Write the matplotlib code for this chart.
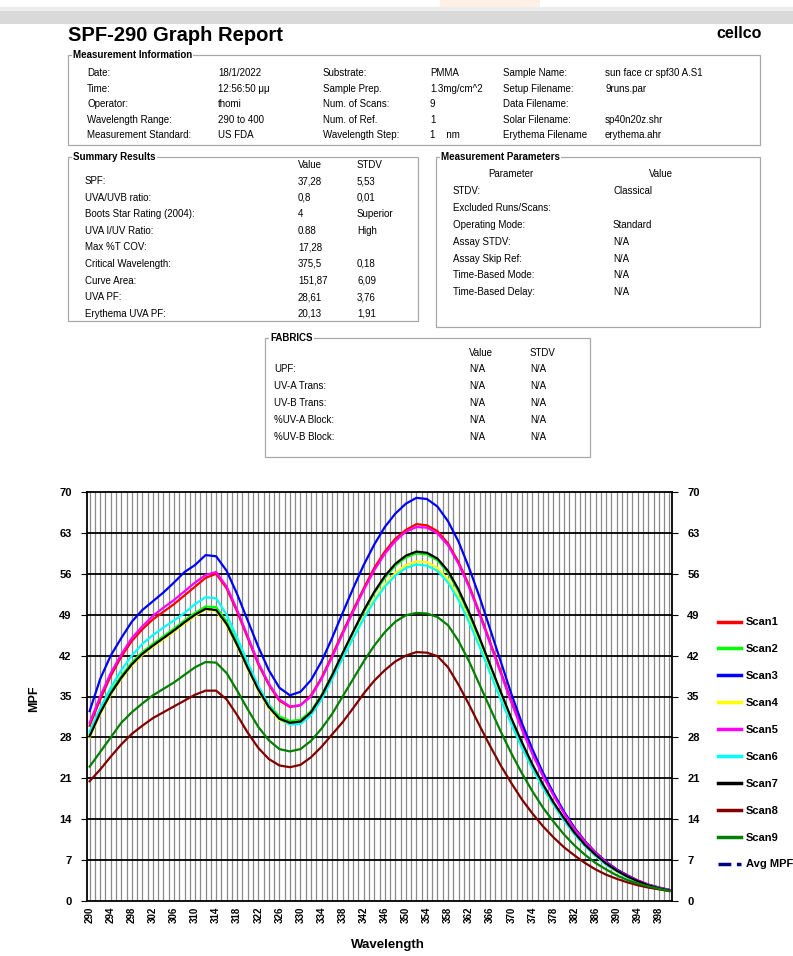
import numpy as np
import matplotlib.pyplot as plt
from matplotlib.patches import Rectangle
from matplotlib.lines import Line2D

plt.rcParams['font.family'] = ['Liberation Sans', 'DejaVu Sans']

# wavelength grid of the readings (nm)
wl = list(range(290, 401, 2))

scan1 = [30.0, 34.5, 38.5, 41.8, 44.5, 46.5, 48.2, 49.5, 50.8, 52.3, 53.8, 55.3, 56.0, 53.5,
         49.5, 45.0, 40.5, 37.0, 34.3, 33.2, 33.5, 35.2, 38.2, 42.0, 46.0, 49.8, 53.5, 57.0,
         59.8, 62.0, 63.5, 64.5, 64.3, 63.3, 61.2, 58.0, 54.0, 49.3, 44.3, 39.3, 34.3, 29.7,
         25.5, 21.7, 18.3, 15.2, 12.5, 10.2, 8.3, 6.7, 5.4, 4.4, 3.5, 2.8, 2.3, 1.9]
scan2 = [28.5, 32.5, 35.8, 38.5, 40.8, 42.6, 44.0, 45.3, 46.6, 48.0, 49.3, 50.4, 50.3, 47.8,
         44.2, 40.3, 36.6, 33.6, 31.6, 30.8, 31.0, 32.5, 35.2, 38.7, 42.4, 46.0, 49.5, 52.7,
         55.3, 57.4, 58.8, 59.5, 59.3, 58.3, 56.2, 53.0, 49.1, 44.7, 40.1, 35.5, 31.0, 26.9,
         23.1, 19.7, 16.7, 14.0, 11.6, 9.5, 7.8, 6.3, 5.1, 4.1, 3.3, 2.7, 2.2, 1.8]
scan3 = [32.5, 38.0, 42.0, 45.0, 47.8, 49.8, 51.3, 52.8, 54.5, 56.3, 57.5, 59.2, 59.0, 56.5,
         52.5, 48.0, 43.5, 39.5, 36.5, 35.2, 35.8, 37.8, 41.0, 45.0, 49.3, 53.5, 57.5, 61.0,
         64.0, 66.3, 68.0, 69.0, 68.8, 67.5, 65.0, 61.5, 57.0, 52.0, 46.5, 41.0, 35.5, 30.5,
         26.0, 22.0, 18.5, 15.3, 12.5, 10.2, 8.3, 6.7, 5.4, 4.4, 3.5, 2.8, 2.3, 1.9]
scan4 = [28.0, 32.0, 35.3, 38.0, 40.3, 42.1, 43.5, 44.8, 46.1, 47.5, 48.8, 49.9, 49.6, 47.2,
         43.6, 39.7, 36.0, 33.0, 31.0, 30.2, 30.4, 31.9, 34.6, 38.0, 41.6, 45.1, 48.5, 51.6,
         54.1, 56.1, 57.5, 58.1, 58.0, 57.0, 55.0, 51.9, 48.1, 43.8, 39.3, 34.8, 30.4, 26.4,
         22.7, 19.4, 16.4, 13.8, 11.4, 9.4, 7.7, 6.2, 5.0, 4.1, 3.3, 2.7, 2.2, 1.8]
scan5 = [30.5, 35.0, 39.0, 42.2, 45.0, 47.0, 48.8, 50.2, 51.5, 53.0, 54.5, 55.8, 56.3, 53.8,
         49.8, 45.3, 40.8, 37.2, 34.5, 33.3, 33.5, 35.0, 38.0, 41.7, 45.7, 49.5, 53.2, 56.6,
         59.4, 61.6, 63.2, 64.0, 63.9, 62.9, 60.9, 57.7, 53.7, 49.0, 44.0, 39.0, 34.0, 29.4,
         25.2, 21.4, 18.1, 15.0, 12.3, 10.1, 8.2, 6.6, 5.3, 4.3, 3.5, 2.8, 2.3, 1.9]
scan6 = [29.0, 33.0, 36.5, 39.5, 42.0, 44.0, 45.5, 46.8, 48.0, 49.3, 50.8, 52.0, 51.8, 49.0,
         45.0, 40.8, 36.8, 33.5, 31.2, 30.2, 30.3, 31.8, 34.5, 38.0, 41.5, 45.0, 48.3, 51.3,
         53.8, 55.7, 57.0, 57.6, 57.4, 56.5, 54.5, 51.5, 47.7, 43.5, 39.0, 34.5, 30.3, 26.3,
         22.7, 19.4, 16.5, 13.8, 11.4, 9.4, 7.7, 6.2, 5.1, 4.1, 3.3, 2.7, 2.2, 1.8]
scan7 = [28.2, 32.2, 35.5, 38.2, 40.5, 42.3, 43.7, 45.0, 46.3, 47.7, 49.0, 50.0, 49.8, 47.4,
         43.8, 39.9, 36.2, 33.2, 31.2, 30.5, 30.7, 32.3, 35.1, 38.6, 42.4, 46.1, 49.7, 52.9,
         55.6, 57.7, 59.1, 59.8, 59.6, 58.6, 56.5, 53.3, 49.4, 45.0, 40.4, 35.8, 31.3, 27.2,
         23.4, 20.0, 16.9, 14.2, 11.7, 9.6, 7.9, 6.4, 5.2, 4.2, 3.4, 2.7, 2.2, 1.8]
scan8 = [20.5, 22.5, 24.7, 26.8, 28.6, 30.0, 31.3, 32.3, 33.3, 34.3, 35.3, 36.0, 36.0, 34.5,
         31.8, 28.8, 26.2, 24.3, 23.2, 22.9, 23.3, 24.6, 26.4, 28.5, 30.6, 33.0, 35.5, 37.7,
         39.5, 41.0, 42.0, 42.6, 42.5, 41.9, 40.0, 37.0, 33.6, 30.0, 26.5, 23.2, 20.2, 17.4,
         15.0, 12.8, 10.9, 9.2, 7.8, 6.5, 5.4, 4.5, 3.8, 3.2, 2.7, 2.3, 2.0, 1.7]
scan9 = [23.0, 25.5, 28.0, 30.5, 32.3, 33.8, 35.2, 36.3, 37.4, 38.7, 40.0, 40.9, 40.8, 39.0,
         36.0, 32.8, 29.8, 27.5, 26.0, 25.6, 26.0, 27.4, 29.5, 32.0, 35.0, 38.0, 41.0, 43.7,
         46.0, 47.8, 48.9, 49.3, 49.2, 48.6, 47.2, 44.5, 41.0, 37.0, 33.0, 29.0, 25.3, 21.9,
         18.8, 16.0, 13.6, 11.4, 9.5, 7.9, 6.5, 5.4, 4.4, 3.6, 3.0, 2.5, 2.1, 1.7]

scans = [scan1, scan2, scan3, scan4, scan5, scan6, scan7, scan8, scan9]
scan_names = ["Scan1", "Scan2", "Scan3", "Scan4", "Scan5", "Scan6", "Scan7", "Scan8", "Scan9"]
scan_colors = ["#ff0000", "#00ff00", "#0000ff", "#ffff00", "#ff00ff", "#00ffff",
               "#000000", "#800000", "#008000"]

y_ticks = [0, 7, 14, 21, 28, 35, 42, 49, 56, 63, 70]
x_ticks = list(range(290, 399, 4))

# report tables
info_rows = [
    ("Date:", "18/1/2022", "Substrate:", "PMMA", "Sample Name:", "sun face cr spf30 A.S1"),
    ("Time:", "12:56:50 μμ", "Sample Prep.", "1.3mg/cm^2", "Setup Filename:", "9runs.par"),
    ("Operator:", "thomi", "Num. of Scans:", "9", "Data Filename:", ""),
    ("Wavelength Range:", "290 to 400", "Num. of Ref.", "1", "Solar Filename:", "sp40n20z.shr"),
    ("Measurement Standard:", "US FDA", "Wavelength Step:", "1    nm", "Erythema Filename", "erythema.ahr"),
]
summary_rows = [
    ("SPF:", "37,28", "5,53"),
    ("UVA/UVB ratio:", "0,8", "0,01"),
    ("Boots Star Rating (2004):", "4", "Superior"),
    ("UVA I/UV Ratio:", "0.88", "High"),
    ("Max %T COV:", "17,28", ""),
    ("Critical Wavelength:", "375,5", "0,18"),
    ("Curve Area:", "151,87", "6,09"),
    ("UVA PF:", "28,61", "3,76"),
    ("Erythema UVA PF:", "20,13", "1,91"),
]
param_rows = [
    ("STDV:", "Classical"),
    ("Excluded Runs/Scans:", ""),
    ("Operating Mode:", "Standard"),
    ("Assay STDV:", "N/A"),
    ("Assay Skip Ref:", "N/A"),
    ("Time-Based Mode:", "N/A"),
    ("Time-Based Delay:", "N/A"),
]
fabric_rows = [
    ("UPF:", "N/A", "N/A"),
    ("UV-A Trans:", "N/A", "N/A"),
    ("UV-B Trans:", "N/A", "N/A"),
    ("%UV-A Block:", "N/A", "N/A"),
    ("%UV-B Block:", "N/A", "N/A"),
]

W, H = 793, 956
fig = plt.figure(figsize=(W / 100, H / 100), dpi=100)

# page overlay in pixel coordinates
bg = fig.add_axes([0, 0, 1, 1])
bg.set_xlim(0, W)
bg.set_ylim(H, 0)
bg.axis('off')

bg.add_patch(Rectangle((0, 11), W, 13, color='#d9d9d9', lw=0))
bg.add_patch(Rectangle((0, 7), W, 4, color='#ededed', lw=0))
bg.add_patch(Rectangle((440, 0), 100, 7, color='#fff0e6', lw=0))

bg.text(68, 35, "SPF-290 Graph Report", fontsize=14.5, fontweight='bold', va='center', ha='left')
bg.text(762, 33, "cellco", fontsize=11.5, fontweight='bold', va='center', ha='right')

fs = 7
box_col = '#a8a8a8'


def group_box(x0, y0, x1, y1, title):
    bg.add_patch(Rectangle((x0, y0), x1 - x0, y1 - y0, fill=False, ec=box_col, lw=0.9))
    bg.text(x0 + 5, y0, title, fontsize=fs, fontweight='bold', va='center', ha='left',
            bbox=dict(facecolor='white', edgecolor='none', pad=0.8))


# Measurement Information
group_box(68, 55, 760, 145, "Measurement Information")
cols = [87, 218, 323, 430, 503, 605]
for i, row in enumerate(info_rows):
    y = 73 + i * 15.6
    for cx, txt in zip(cols, row):
        bg.text(cx, y, txt, fontsize=fs, va='center', ha='left')

# Summary Results
group_box(68, 157, 418, 321, "Summary Results")
bg.text(298, 165, "Value", fontsize=fs, va='center')
bg.text(357, 165, "STDV", fontsize=fs, va='center')
for i, (lab, v, s) in enumerate(summary_rows):
    y = 181 + i * 16.6
    bg.text(85, y, lab, fontsize=fs, va='center')
    bg.text(298, y, v, fontsize=fs, va='center')
    bg.text(357, y, s, fontsize=fs, va='center')

# Measurement Parameters
group_box(436, 157, 760, 327, "Measurement Parameters")
bg.text(488, 174, "Parameter", fontsize=fs, va='center')
bg.text(649, 174, "Value", fontsize=fs, va='center')
for i, (lab, v) in enumerate(param_rows):
    y = 191 + i * 16.9
    bg.text(453, y, lab, fontsize=fs, va='center')
    bg.text(613, y, v, fontsize=fs, va='center')

# FABRICS
group_box(265, 338, 590, 457, "FABRICS")
bg.text(469, 353, "Value", fontsize=fs, va='center')
bg.text(530, 353, "STDV", fontsize=fs, va='center')
for i, (lab, v, s) in enumerate(fabric_rows):
    y = 369 + i * 17
    bg.text(274, y, lab, fontsize=fs, va='center')
    bg.text(469, y, v, fontsize=fs, va='center')
    bg.text(530, y, s, fontsize=fs, va='center')

# MPF chart
px_l, px_r, px_t, px_b = 87, 672, 492, 901
ax = fig.add_axes([px_l / W, 1 - px_b / H, (px_r - px_l) / W, (px_b - px_t) / H])
ax.set_xlim(289.5, 400.5)
ax.set_ylim(0, 70)

for x in range(290, 401):
    ax.axvline(x, color='#8a8a8a', lw=0.9, zorder=0)
for y in y_ticks[1:-1]:
    ax.axhline(y, color='black', lw=1.3, zorder=1)

for vals, name, col in zip(scans, scan_names, scan_colors):
    ax.plot(wl, vals, color=col, lw=1.6, label=name, zorder=3)

ax.set_yticks(y_ticks)
ax.set_xticks(x_ticks)
ax.set_xticklabels([str(t) for t in x_ticks], rotation=90, fontsize=7, fontweight='bold')
ax.tick_params(axis='y', which='both', left=True, right=True, labelleft=True, labelright=True,
               length=4, labelsize=8, pad=7)
ax.tick_params(axis='x', length=0, pad=4)
for lab in ax.yaxis.get_ticklabels(which='both'):
    lab.set_fontweight('bold')
for t in ax.yaxis.get_major_ticks():
    t.label2.set_fontweight('bold')
for sp in ax.spines.values():
    sp.set_linewidth(1.3)

bg.text(34, 699, "MPF", fontsize=9, fontweight='bold', rotation=90, va='center', ha='center')
bg.text(388, 945, "Wavelength", fontsize=9.5, fontweight='bold', va='center', ha='center')

handles = [Line2D([], [], color=c, lw=2.5) for c in scan_colors]
handles.append(Line2D([], [], color='#000080', lw=2.5, ls='--'))
labels = scan_names + ["Avg MPF"]
leg = fig.legend(handles, labels, loc='upper left', bbox_to_anchor=(714 / W, 1 - 613 / H),
                 frameon=False, fontsize=8, labelspacing=1.52, handlelength=2.0,
                 handletextpad=0.5, borderaxespad=0)
for t in leg.get_texts():
    t.set_fontweight('bold')

fig.savefig("out.png", dpi=100)
